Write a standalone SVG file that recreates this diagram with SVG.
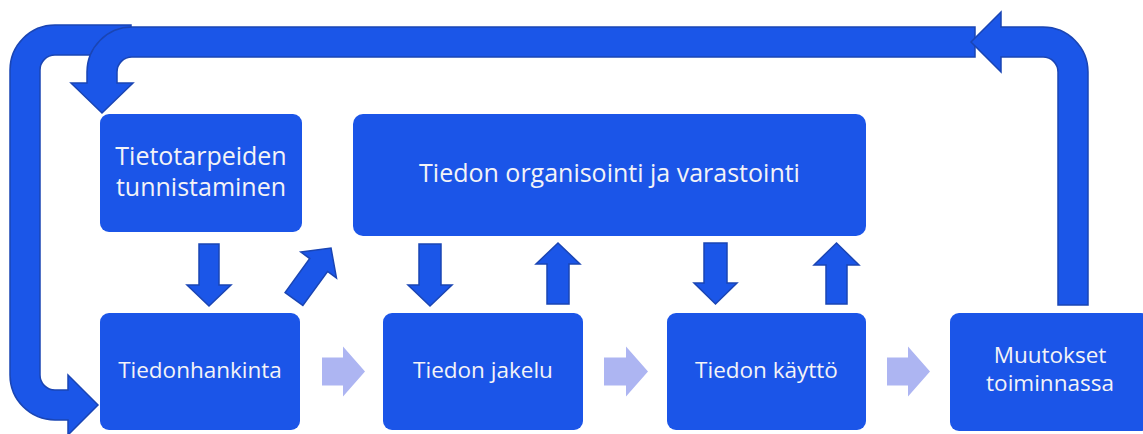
<svg xmlns="http://www.w3.org/2000/svg" width="1143" height="434" viewBox="0 0 1143 434">
<style>
.box{fill:#1b55e8}
.arr{fill:#1b56e8;stroke:#1a45b4;stroke-width:1.5;stroke-linejoin:miter}
.light{fill:#adb5f2}
.t{font-family:"Open Sans","Noto Sans","Liberation Sans",sans-serif;fill:#f3f3f7;text-anchor:middle}
.big{font-size:25px}
.sm{font-size:22.5px}
</style>
<rect width="1143" height="434" fill="#ffffff"/>
<g id="connectors">
<path class="arr" d="M131 25 L55 25 A45 45 0 0 0 10 70 L10 375 A45 45 0 0 0 55 420 L68 420 L68 435 L98 405 L68 375 L68 390 L55 390 A15 15 0 0 1 40 375 L40 70 A15 15 0 0 1 55 55 L131 55 Z"/>
<path class="arr" d="M975 27 L132 27 A45 45 0 0 0 87 72 L87 83 L71 83 L102 113 L133 83 L117 83 L117 72 A15 15 0 0 1 132 57 L975 57 Z"/>
<path class="arr" d="M1058 305 L1058 72 A15 15 0 0 0 1043 57 L1001 57 L1001 72 L971 42 L1001 12 L1001 27 L1043 27 A45 45 0 0 1 1088 72 L1088 305 Z"/>
<path class="arr" d="M199 244 L219 244 L219 285 L231 285 L209 306 L187 285 L199 285 Z"/>
<path class="arr" transform="translate(331 248) rotate(36)" d="M0 0 L22 21 L11 21 L11 63 L-11 63 L-11 21 L-22 21 Z"/>
<path class="arr" d="M419 244 L441 244 L441 285 L452 285 L430 306 L408 285 L419 285 Z"/>
<path class="arr" d="M558 243 L580 264 L569 264 L569 304 L547 304 L547 264 L536 264 Z"/>
<path class="arr" d="M704 243 L727 243 L727 283 L737 283 L715.5 304 L694 283 L704 283 Z"/>
<path class="arr" d="M836.5 243 L859 265 L847 265 L847 304 L826 304 L826 265 L814 265 Z"/>
<path class="light" d="M322 357.5 L343 357.5 L343 346.5 L365 371.5 L343 396.5 L343 385.5 L322 385.5 Z"/>
<path class="light" d="M604 357.5 L626 357.5 L626 346.5 L648 371.5 L626 396.5 L626 385.5 L604 385.5 Z"/>
<path class="light" d="M887 357.5 L908 357.5 L908 346.5 L930 371.5 L908 396.5 L908 385.5 L887 385.5 Z"/>
</g>
<g id="node-tietotarpeiden">
<rect class="box" x="100" y="114" width="202" height="118" rx="9"/>
<text class="t big" x="201" y="165">Tietotarpeiden</text>
<text class="t big" x="201" y="196">tunnistaminen</text>
</g>
<g id="node-organisointi">
<rect class="box" x="353" y="114" width="513" height="122" rx="10"/>
<text class="t big" x="609.5" y="182">Tiedon organisointi ja varastointi</text>
</g>
<g id="node-hankinta">
<rect class="box" x="100" y="313" width="200" height="117" rx="9"/>
<text class="t sm" x="200" y="378">Tiedonhankinta</text>
</g>
<g id="node-jakelu">
<rect class="box" x="383" y="313" width="200" height="117" rx="9"/>
<text class="t sm" x="483" y="378">Tiedon jakelu</text>
</g>
<g id="node-kaytto">
<rect class="box" x="667" y="313" width="199" height="117" rx="9"/>
<text class="t sm" x="766.5" y="378">Tiedon käyttö</text>
</g>
<g id="node-muutokset">
<rect class="box" x="950" y="313" width="200" height="118" rx="9"/>
<text class="t sm" x="1050" y="363">Muutokset</text>
<text class="t sm" x="1050" y="391">toiminnassa</text>
</g>
</svg>
